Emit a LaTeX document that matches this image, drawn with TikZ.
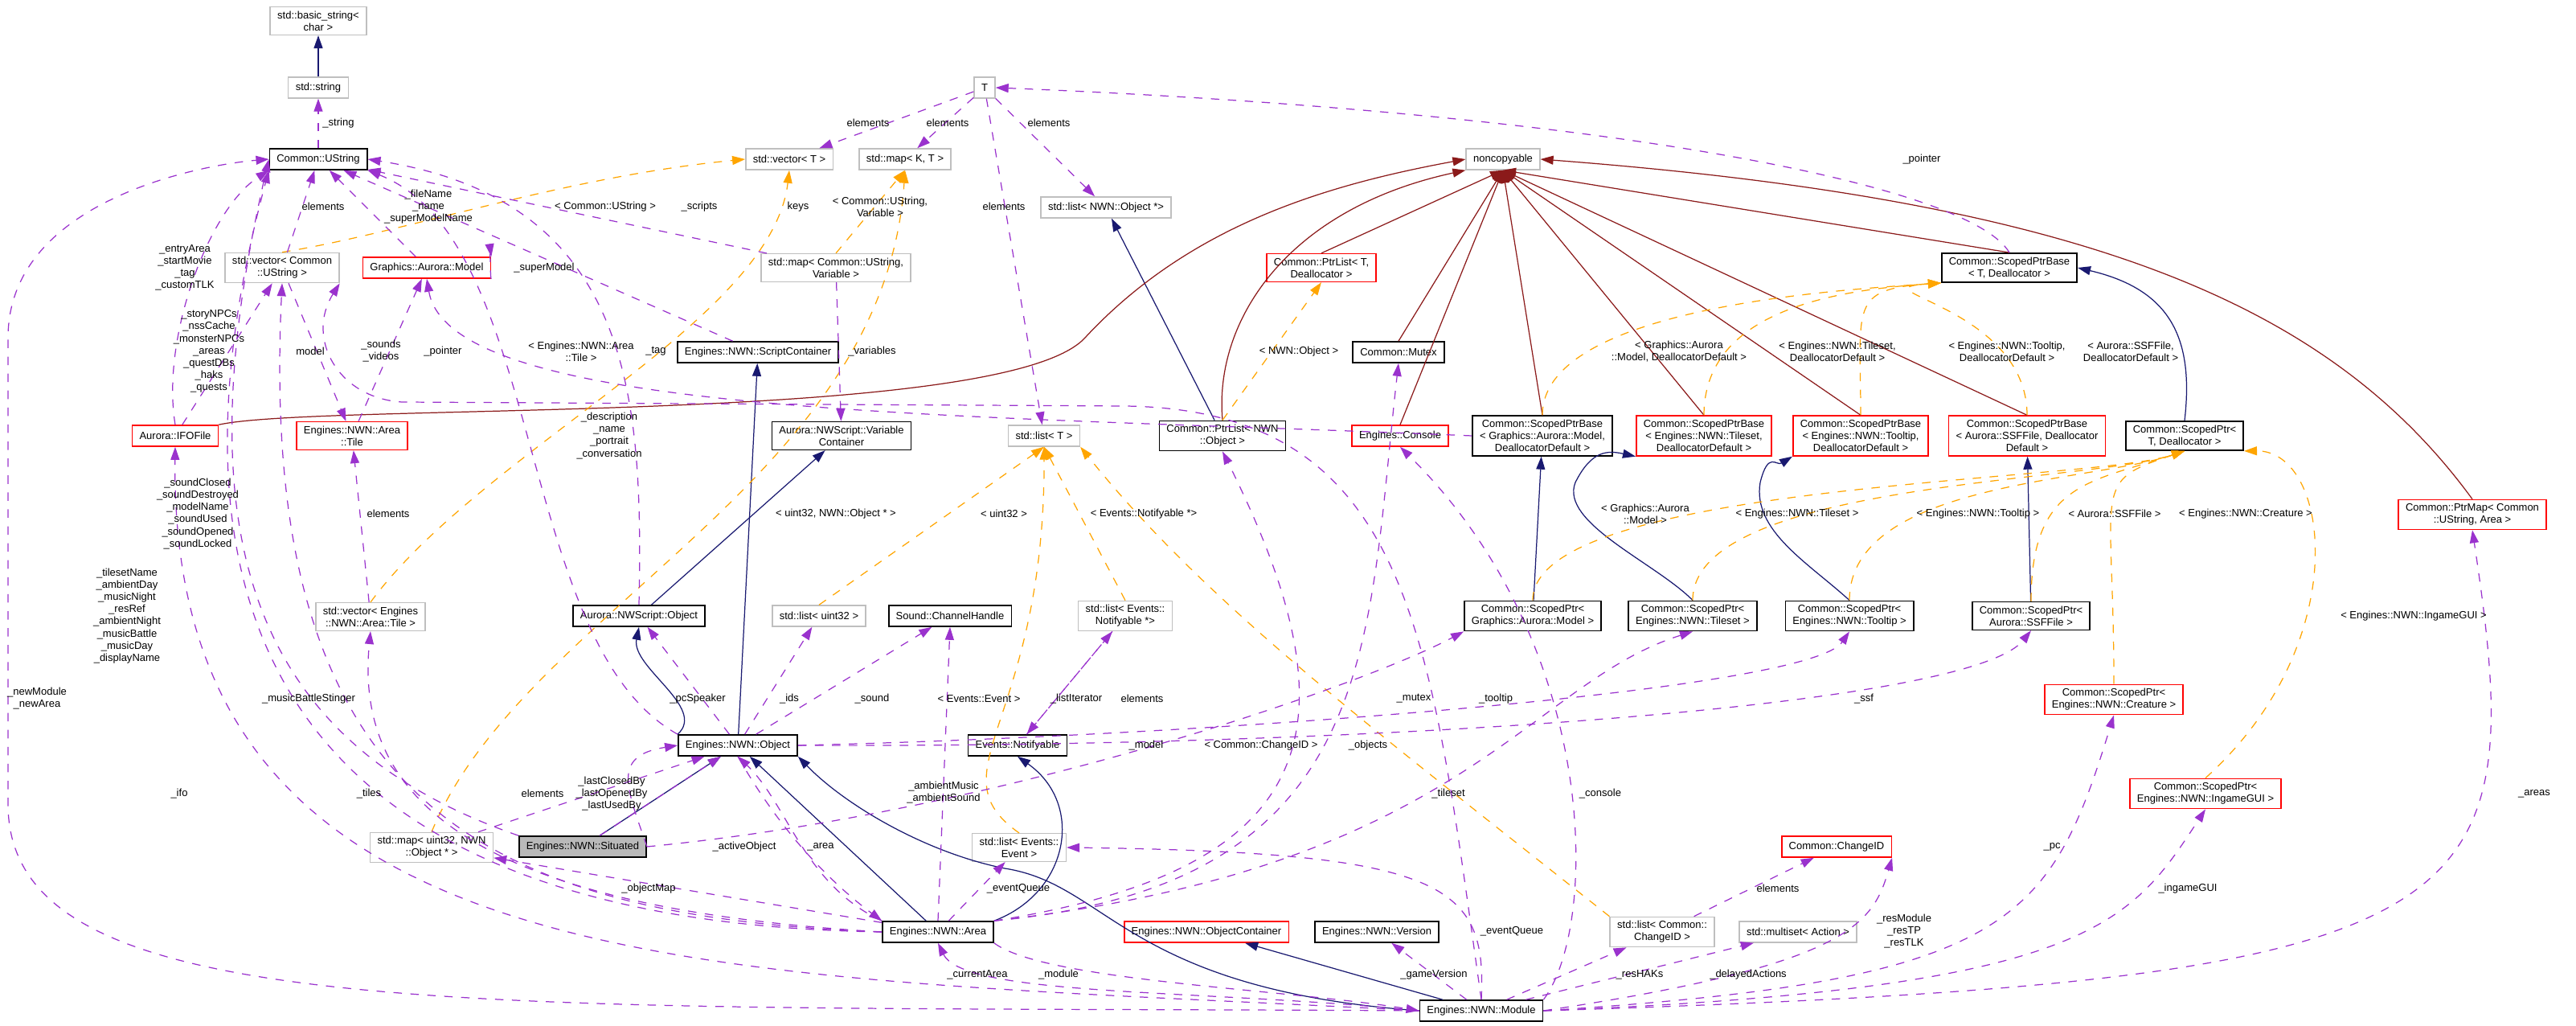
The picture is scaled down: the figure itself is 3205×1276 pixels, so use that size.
\documentclass[tikz,border=0pt]{standalone}
\usepackage{fontspec}
\setmainfont{Liberation Sans}
\usetikzlibrary{arrows.meta}
\definecolor{inhblue}{HTML}{191970}
\definecolor{usepurple}{HTML}{9A32CD}
\definecolor{tplorange}{HTML}{FFA500}
\definecolor{ncred}{HTML}{8B1A1A}
\definecolor{extgray}{HTML}{BFBFBF}

\begin{document}
\begin{tikzpicture}
[
  x=0.01cm, y=-0.01cm,
  every node/.style={font=\fontsize{3.7}{4.3}\selectfont},
  cls/.style={draw=black, line width=0.45pt, rectangle, inner xsep=0.09cm, inner ysep=0.05cm, minimum height=0.26cm, align=center},
  ext/.style={cls, draw=extgray, line width=0.4pt},
  inc/.style={cls, draw=red},
  cur/.style={cls, fill=gray!55},
  tip/.style={-{Triangle[length=0.16cm,width=0.11cm]}},
  inh/.style={tip, draw=inhblue, line width=0.35pt},
  ncl/.style={tip, draw=ncred, line width=0.35pt},
  use/.style={tip, draw=usepurple, dashed, line width=0.35pt},
  tpl/.style={tip, draw=tplorange, dashed, line width=0.35pt},
  lbl/.style={align=center, inner sep=0pt}
]
\path[use as bounding box] (0,0) rectangle (3205,1276);

% classes
\node (bstr) [ext] at (396,26) {std::basic\_string\textless\\char \textgreater};
\node (str) [ext] at (396,109) {std::string};
\node (ustr) [cls] at (396,198) {Common::UString};
\node (vect) [ext] at (982,198) {std::vector\textless{} T \textgreater};
\node (mapkt) [ext] at (1126,198) {std::map\textless{} K, T \textgreater};
\node (tT) [ext] at (1225,109) {T};
\node (nc) [ext] at (1870,198) {noncopyable};
\node (listobj) [ext] at (1376,258) {std::list\textless{} NWN::Object *\textgreater};
\node (vecus) [ext] at (351,333) {std::vector\textless{} Common\\::UString \textgreater};
\node (model) [inc] at (531,333) {Graphics::Aurora::Model};
\node (mapuv) [ext] at (1040,333) {std::map\textless{} Common::UString,\\Variable \textgreater};
\node (ptlT) [inc] at (1644,333) {Common::PtrList\textless{} T,\\Deallocator \textgreater};
\node (spbT) [cls] at (2500,333) {Common::ScopedPtrBase\\\textless{} T, Deallocator \textgreater};
\node (scont) [cls] at (943,438) {Engines::NWN::ScriptContainer};
\node (mutex) [cls] at (1740,438) {Common::Mutex};

\node (ifo) [inc] at (218,542) {Aurora::IFOFile};
\node (tile) [inc] at (438,542) {Engines::NWN::Area\\::Tile};
\node (varc) [cls] at (1047,542) {Aurora::NWScript::Variable\\Container};
\node (listT) [ext] at (1299,542) {std::list\textless{} T \textgreater};
\node (plist) [cls] at (1521,542) {Common::PtrList\textless{} NWN\\::Object \textgreater};
\node (console) [inc] at (1742,542) {Engines::Console};
\node (spbmod) [cls] at (1919,542) {Common::ScopedPtrBase\\\textless{} Graphics::Aurora::Model,\\DeallocatorDefault \textgreater};
\node (spbtls) [inc] at (2120,542) {Common::ScopedPtrBase\\\textless{} Engines::NWN::Tileset,\\DeallocatorDefault \textgreater};
\node (spbtip) [inc] at (2315,542) {Common::ScopedPtrBase\\\textless{} Engines::NWN::Tooltip,\\DeallocatorDefault \textgreater};
\node (spbssf) [inc] at (2522,542) {Common::ScopedPtrBase\\\textless{} Aurora::SSFFile, Deallocator\\Default \textgreater};
\node (sptT) [cls] at (2718,542) {Common::ScopedPtr\textless\\T, Deallocator \textgreater};
\node (ptrmap) [inc] at (3076,640) {Common::PtrMap\textless{} Common\\::UString, Area \textgreater};

\node (vectile) [ext] at (461,767) {std::vector\textless{} Engines\\::NWN::Area::Tile \textgreater};
\node (nwso) [cls] at (795,766) {Aurora::NWScript::Object};
\node (listu) [ext] at (1019,766) {std::list\textless{} uint32 \textgreater};
\node (chan) [cls] at (1182,766) {Sound::ChannelHandle};
\node (listnot) [ext] at (1400,766) {std::list\textless{} Events::\\Notifyable *\textgreater};
\node (sptmod) [cls] at (1907,766) {Common::ScopedPtr\textless\\Graphics::Aurora::Model \textgreater};
\node (spttls) [cls] at (2106,766) {Common::ScopedPtr\textless\\Engines::NWN::Tileset \textgreater};
\node (spttip) [cls] at (2301,766) {Common::ScopedPtr\textless\\Engines::NWN::Tooltip \textgreater};
\node (sptssf) [cls] at (2527,766) {Common::ScopedPtr\textless\\Aurora::SSFFile \textgreater};
\node (sptcre) [inc] at (2630,870) {Common::ScopedPtr\textless\\Engines::NWN::Creature \textgreater};

\node (obj) [cls] at (918,927) {Engines::NWN::Object};
\node (notif) [cls] at (1266,927) {Events::Notifyable};
\node (sptgui) [inc] at (2744,987) {Common::ScopedPtr\textless\\Engines::NWN::IngameGUI \textgreater};
\node (sit) [cur] at (725,1053) {Engines::NWN::Situated};
\node (mapuo) [ext] at (537,1054) {std::map\textless{} uint32, NWN\\::Object * \textgreater};
\node (listev) [ext] at (1268,1054) {std::list\textless{} Events::\\Event \textgreater};
\node (cid) [inc] at (2285,1053) {Common::ChangeID};
\node (area) [cls] at (1167,1159) {Engines::NWN::Area};
\node (objc) [inc] at (1501,1159) {Engines::NWN::ObjectContainer};
\node (ver) [cls] at (1713,1159) {Engines::NWN::Version};
\node (listcid) [ext] at (2068,1159) {std::list\textless{} Common::\\ChangeID \textgreater};
\node (mset) [ext] at (2237,1159) {std::multiset\textless{} Action \textgreater};
\node (module) [cls] at (1843,1257) {Engines::NWN::Module};

% inheritance
\draw [inh] (str) -- (bstr);
\foreach \i/\j in {obj/scont,nwso/varc,plist/listobj,sptmod/spbmod,sptssf/spbssf,module/objc,sit/obj,area/obj}
  \draw [inh] (\i) -- (\j);
\draw [inh] (obj.north west) .. controls (880,880) and (785,830) .. (nwso.south);
\draw [inh] (area.north east) .. controls (1330,1110) and (1350,1000) .. (notif.south);
\draw [inh] (module.west) .. controls (1400,1230) and (1380,1100) .. (1250,1080) .. controls (1150,1060) and (1050,1000) .. (obj.south east);
\draw [inh] (spttls.north) .. controls (2060,700) and (1940,650) .. (1960,600) .. controls (1980,560) and (2000,560) .. (spbtls.south west);
\draw [inh] (spttip.north) .. controls (2250,700) and (2180,660) .. (2190,600) .. controls (2200,560) and (2210,580) .. (spbtip.south west);
\draw [inh] (sptT.north) .. controls (2730,420) and (2700,360) .. (spbT.east);

% noncopyable
\foreach \i in {ptlT,mutex,console,spbmod,spbtls,spbtip,spbssf,spbT}
  \draw [ncl] (\i.north) -- (nc.south);
\draw [ncl] (plist.north) .. controls (1510,400) and (1600,260) .. (nc.south west);
\draw [ncl] (ifo.north east) .. controls (400,500) and (1250,530) .. (1350,420) .. controls (1480,280) and (1650,230) .. (nc.west);
\draw [ncl] (ptrmap.north) .. controls (2900,380) and (2600,250) .. (nc.east);

% template instances
\draw [tpl] (vecus.north) .. controls (500,290) and (700,220) .. (vect.west);
\draw [tpl] (vectile.north) .. controls (600,560) and (960,400) .. (vect.south);
\draw [tpl] (mapuv.north) -- (mapkt.south);
\draw [tpl] (mapuo.north) .. controls (650,760) and (1100,600) .. (mapkt.south);
\foreach \i in {listu,listnot}
  \draw [tpl] (\i.north) -- (listT.south);
\draw [tpl] (listev.north) .. controls (1160,960) and (1300,900) .. (listT.south);
\draw [tpl] (listcid.north west) .. controls (1700,900) and (1500,750) .. (listT.south east);
\draw [tpl] (plist.north) -- (ptlT.south);
\foreach \i in {spbmod,spbtls,spbtip,spbssf}
  \draw [tpl] (\i.north) .. controls (\i.north |- 380,380) and (2300,360) .. (spbT.south west);
\foreach \i in {sptmod,spttls,spttip,sptssf,sptcre}
  \draw [tpl] (\i.north) .. controls (\i.north |- 600,600) and (2600,600) .. (sptT.south);
\draw [tpl] (sptgui.north) .. controls (2930,800) and (2900,560) .. (sptT.south east);

% members
\foreach \i/\j in {str/ustr,ustr/vecus,ustr/model,vect/tT,mapkt/tT,listT/tT,listobj/tT,
    varc/mapuv,tile/vectile,model/tile,tile/vecus,nwso/obj,listu/obj,chan/obj,notif/listnot,listnot/notif,
    obj/sit,obj/mapuo,ver/module,listcid/module,cid/listcid,mset/module,listev/area,mapuo/area,ustr/scont,ustr/mapuv,vecus/ifo}
  \draw [use] (\j) -- (\i);
\draw [use] (model.south east) .. controls (610,350) and (610,310) .. (model.north east);
\draw [use] (ifo.north) .. controls (200,420) and (260,260) .. (ustr.south west);
\draw [use] (area.west) .. controls (500,1150) and (150,900) .. (ustr.south west);
\draw [use] (area.west) .. controls (600,1140) and (320,1000) .. (vecus.south);
\draw [use] (sit.north west) .. controls (300,920) and (230,650) .. (ustr.west);
\draw [use] (obj.north west) .. controls (640,800) and (680,300) .. (ustr.south east);
\draw [use] (nwso.north) .. controls (800,500) and (790,250) .. (ustr.east);
\draw [use] (module.west) .. controls (600,1250) and (10,1280) .. (10,1000) -- (10,420) .. controls (10,250) and (250,205) .. (ustr.west);
\draw [use] (module.west) .. controls (900,1210) and (210,1240) .. (ifo.south);
\draw [use] (module.north) .. controls (1780,800) and (1760,510) .. (1400,505) -- (500,500) .. controls (420,495) and (380,420) .. (vecus.south east);
\draw [use] (spbmod.west) .. controls (1200,515) and (560,520) .. (model.south);
\draw [use] (spbT.north) .. controls (2450,230) and (2000,140) .. (tT.east);
\draw [use] (area.west) .. controls (600,1130) and (440,1000) .. (vectile.south);
\draw [use] (area.north) -- (chan.south);
\draw [use] (sit.east) .. controls (1250,1010) and (1700,850) .. (sptmod.south west);
\draw [use] (area.north east) .. controls (1650,1080) and (1690,900) .. (plist.south);
\draw [use] (area.north east) .. controls (1720,1100) and (1700,800) .. (mutex.south);
\draw [use] (area.north east) .. controls (1820,1080) and (1900,850) .. (spttls.south);
\draw [use] (obj.east) .. controls (1500,915) and (2250,860) .. (spttip.south);
\draw [use] (obj.east) .. controls (1700,930) and (2450,880) .. (sptssf.south);
\draw [use] (module.north east) .. controls (1990,1150) and (1990,800) .. (console.south);
\draw [use] (module.north) .. controls (1850,1100) and (1800,1060) .. (listev.east);
\draw [use] (sit.east) .. controls (780,980) and (760,940) .. (obj.west);
\draw [use] (area.north west) .. controls (1000,1100) and (980,1000) .. (obj.south);
\draw [use] (obj.south) .. controls (980,1050) and (1050,1110) .. (area.north west);
\draw [use] (module.west) .. controls (1500,1230) and (1200,1240) .. (area.south);
\draw [use] (area.south east) .. controls (1300,1220) and (1600,1230) .. (module.west);
\draw [use] (module.east) .. controls (2300,1200) and (2330,1150) .. (cid.south east);
\draw [use] (module.east) .. controls (2500,1220) and (2550,1150) .. (sptcre.south);
\draw [use] (module.east) .. controls (2600,1230) and (2650,1150) .. (sptgui.south);
\draw [use] (module.east) .. controls (3100,1220) and (3150,1150) .. (ptrmap.south);

% labels
\foreach \x/\y/\t [count=\n] in {
  421/153/\_string, 402/257/elements, 533/257/{\_fileName\\\_name\\\_superModelName}, 677/333/\_superModel,
  753/257/{\textless{} Common::UString \textgreater}, 870/257/\_scripts, 993/257/keys,
  1095/257/{\textless{} Common::UString,\\Variable \textgreater}, 230/333/{\_entryArea\\\_startMovie\\\_tag\\\_customTLK},
  260/437/{\_storyNPCs\\\_nssCache\\\_monsterNPCs\\\_areas\\\_questDBs\\\_haks\\\_quests},
  386/437/model, 474/437/{\_sounds\\\_videos}, 551/437/\_pointer, 723/437/{\textless{} Engines::NWN::Area\\::Tile \textgreater},
  816/437/\_tag, 1085/437/\_variables, 1080/153/elements, 1179/153/elements, 1305/153/elements, 1249/257/elements,
  1616/437/{\textless{} NWN::Object \textgreater}, 2089/437/{\textless{} Graphics::Aurora\\::Model, DeallocatorDefault \textgreater},
  2391/198/\_pointer, 2286/437/{\textless{} Engines::NWN::Tileset,\\DeallocatorDefault \textgreater},
  2497/437/{\textless{} Engines::NWN::Tooltip,\\DeallocatorDefault \textgreater}, 2651/437/{\textless{} Aurora::SSFFile,\\DeallocatorDefault \textgreater},
  758/542/{\_description\\\_name\\\_portrait\\\_conversation},
  246/639/{\_soundClosed\\\_soundDestroyed\\\_modelName\\\_soundUsed\\\_soundOpened\\\_soundLocked},
  483/639/elements, 1040/639/{\textless{} uint32, NWN::Object * \textgreater},
  158/766/{\_tilesetName\\\_ambientDay\\\_musicNight\\\_resRef\\\_ambientNight\\\_musicBattle\\\_musicDay\\\_displayName},
  46/869/{\_newModule\\\_newArea}, 384/869/\_musicBattleStinger, 868/869/\_pcSpeaker, 982/869/\_ids, 1085/869/\_sound,
  1249/639/{\textless{} uint32 \textgreater}, 1423/639/{\textless{} Events::Notifyable *\textgreater},
  2047/639/{\textless{} Graphics::Aurora\\::Model \textgreater}, 2236/639/{\textless{} Engines::NWN::Tileset \textgreater},
  1218/869/{\textless{} Events::Event \textgreater}, 1339/869/\_listIterator, 1421/869/elements, 1759/869/\_mutex, 1861/869/\_tooltip,
  2461/639/{\textless{} Engines::NWN::Tooltip \textgreater}, 2631/639/{\textless{} Aurora::SSFFile \textgreater},
  2794/639/{\textless{} Engines::NWN::Creature \textgreater}, 3003/766/{\textless{} Engines::NWN::IngameGUI \textgreater}, 2319/869/\_ssf,
  223/987/\_ifo, 459/987/\_tiles, 675/987/elements, 761/987/{\_lastClosedBy\\\_lastOpenedBy\\\_lastUsedBy},
  926/1053/\_activeObject, 1021/1053/\_area, 807/1105/\_objectMap,
  1426/927/\_model, 1569/927/{\textless{} Common::ChangeID \textgreater}, 1702/927/\_objects,
  1174/986/{\_ambientMusic\\\_ambientSound}, 1802/987/\_tileset, 1991/987/\_console, 1267/1105/\_eventQueue,
  1881/1158/\_eventQueue, 1216/1212/\_currentArea, 1317/1212/\_module, 1784/1212/\_gameVersion, 2040/1212/\_resHAKs,
  2175/1212/\_delayedActions, 2212/1105/elements, 2369/1158/{\_resModule\\\_resTP\\\_resTLK},
  2553/1053/\_pc, 2722/1105/\_ingameGUI, 3153/987/\_areas}
  \node (lbl\n) [lbl] at (\x,\y) {\t};
\end{tikzpicture}
\end{document}
